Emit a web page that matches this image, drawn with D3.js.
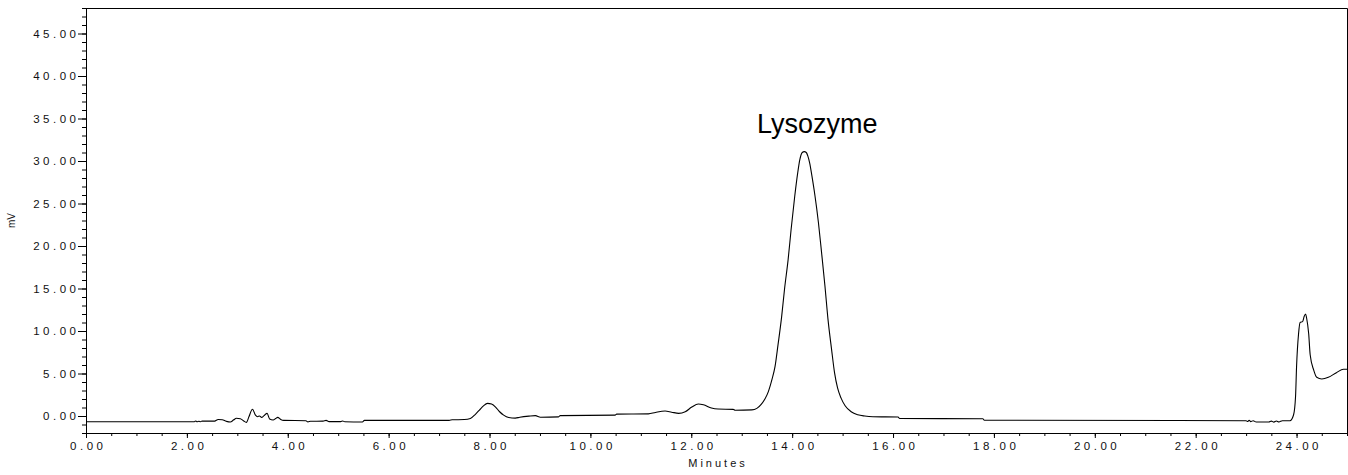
<!DOCTYPE html>
<html>
<head>
<meta charset="utf-8">
<script src="https://cdn.jsdelivr.net/npm/d3@7"></script>
<style>
  body { margin: 0; background: #fff; }
  text { font-family: "Liberation Sans", Arial, sans-serif; }
</style>
</head>
<body>
<script>
// retention time (min) and detector signal (mV)
var times = [0.00, 2.15, 2.18, 2.20, 2.24, 2.27, 2.30, 2.55, 2.62, 2.70, 2.78, 2.86, 2.93, 2.98, 3.06, 3.12, 3.18,
  3.23, 3.30, 3.36, 3.40, 3.44, 3.48, 3.53, 3.59, 3.64, 3.71, 3.76, 3.80, 3.86, 3.92, 4.36, 4.40, 4.45, 4.70,
  4.76, 4.82, 5.05, 5.09, 5.13, 5.48, 5.52, 7.20, 7.26, 7.50, 7.62, 7.72, 7.80, 7.88, 7.96, 8.04, 8.12, 8.20,
  8.28, 8.38, 8.51, 8.60, 8.78, 8.91, 9.01, 9.37, 9.40, 10.49, 10.52, 11.15, 11.29, 11.48, 11.61, 11.75, 11.88,
  12.01, 12.14, 12.24, 12.40, 12.53, 12.83, 12.87, 13.20, 13.30, 13.39, 13.46, 13.53, 13.60, 13.66, 13.72,
  13.79, 13.85, 13.92, 13.98, 14.05, 14.11, 14.15, 14.20, 14.24, 14.28, 14.31, 14.35, 14.39, 14.45, 14.52,
  14.58, 14.65, 14.71, 14.78, 14.84, 14.90, 14.97, 15.05, 15.17, 15.30, 15.44, 15.60, 16.10, 16.13, 17.78,
  17.81, 23.00, 23.03, 23.06, 23.09, 23.14, 23.20, 23.45, 23.50, 23.55, 23.60, 23.65, 23.72, 23.87, 23.94,
  23.98, 24.00, 24.04, 24.07, 24.12, 24.15, 24.18, 24.20, 24.24, 24.27, 24.34, 24.40, 24.50, 24.63, 24.79,
  24.93, 25.00];
var signal = [-0.67, -0.67, -0.58, -0.67, -0.62, -0.67, -0.60, -0.60, -0.42, -0.45, -0.62, -0.71, -0.45, -0.27,
  -0.33, -0.55, -0.75, -0.10, 0.79, 0.10, -0.08, 0.00, -0.16, 0.04, 0.31, -0.35, -0.47, -0.30, -0.16, -0.40,
  -0.51, -0.55, -0.70, -0.62, -0.60, -0.52, -0.66, -0.66, -0.58, -0.68, -0.71, -0.51, -0.51, -0.45, -0.42,
  -0.30, 0.20, 0.70, 1.20, 1.49, 1.40, 1.05, 0.50, 0.10, -0.18, -0.25, -0.15, -0.02, 0.04, -0.14, -0.10, 0.04,
  0.10, 0.22, 0.25, 0.42, 0.58, 0.45, 0.31, 0.50, 1.05, 1.41, 1.32, 0.94, 0.82, 0.78, 0.68, 0.72, 0.90, 1.40,
  2.00, 2.90, 4.30, 5.80, 8.40, 11.60, 15.00, 18.40, 22.00, 25.80, 28.60, 30.10, 31.00, 31.10, 31.00, 30.60,
  29.70, 28.30, 26.00, 22.80, 19.40, 15.30, 11.40, 7.90, 5.10, 3.30, 2.10, 1.20, 0.50, 0.15, 0.00, -0.08,
  -0.12, -0.30, -0.32, -0.50, -0.55, -0.65, -0.50, -0.66, -0.55, -0.71, -0.71, -0.60, -0.72, -0.58, -0.70,
  -0.55, -0.55, 0.12, 2.30, 5.80, 9.70, 11.00, 11.10, 11.70, 12.00, 11.50, 9.70, 7.20, 5.40, 4.55, 4.36,
  4.55, 5.10, 5.50, 5.50];

var yMajor = [0, 5, 10, 15, 20, 25, 30, 35, 40, 45];
var xMajor = [0, 2, 4, 6, 8, 10, 12, 14, 16, 18, 20, 22, 24];
var peakName = "Lysozyme";

var width = 1348, height = 475;
var plotL = 86, plotR = 1347, plotT = 8, plotB = 433;
var ls = 3.5; // letter spacing of the tick labels

var x = d3.scaleLinear().domain([0, 25]).range([plotL, plotR]);
var y = d3.scaleLinear().domain([-2, 48]).range([plotB, plotT]);

var svg = d3.select("body").append("svg")
    .attr("width", width)
    .attr("height", height);

svg.append("rect")
    .attr("width", width).attr("height", height)
    .attr("fill", "#fff");

// frame (top and right)
svg.append("path")
    .attr("d", "M" + plotL + "," + (plotT + 0.5) + "H" + (plotR + 0.5) + "V" + plotB)
    .attr("fill", "none")
    .attr("stroke", "#000");

// y axis, minor then major
svg.append("g")
    .attr("transform", "translate(" + plotL + ",0)")
    .call(d3.axisLeft(y).tickValues(d3.range(-2, 49)).tickSize(4).tickSizeOuter(0).tickFormat(""));

var yAxis = svg.append("g")
    .attr("transform", "translate(" + plotL + ",0)")
    .call(d3.axisLeft(y).tickValues(yMajor).tickSize(8).tickSizeOuter(0).tickFormat(d3.format(".2f")));
yAxis.selectAll("text")
    .attr("x", -10 + ls)
    .attr("font-size", "11.5px")
    .attr("letter-spacing", ls + "px")
    .attr("fill", "#111");

// x axis, minor then major
svg.append("g")
    .attr("transform", "translate(0," + plotB + ")")
    .call(d3.axisBottom(x).tickValues(d3.range(0, 25.01, 0.5)).tickSize(3).tickSizeOuter(0).tickFormat(""));

var xAxis = svg.append("g")
    .attr("transform", "translate(0," + plotB + ")")
    .call(d3.axisBottom(x).tickValues(xMajor).tickSize(5).tickSizeOuter(0).tickFormat(d3.format(".2f")));
xAxis.selectAll("text")
    .attr("y", 17)
    .attr("dy", 0)
    .attr("dx", ls / 2)
    .attr("font-size", "11.5px")
    .attr("letter-spacing", ls + "px")
    .attr("fill", "#111");
svg.selectAll(".domain").attr("stroke", "#000");

// axis titles
svg.append("text")
    .attr("x", (plotL + plotR) / 2 + 1.5)
    .attr("y", 467)
    .attr("text-anchor", "middle")
    .attr("font-size", "11px")
    .attr("letter-spacing", "3px")
    .attr("fill", "#111")
    .text("Minutes");

svg.append("text")
    .attr("transform", "translate(15," + ((plotT + plotB) / 2) + ") rotate(-90)")
    .attr("text-anchor", "middle")
    .attr("font-size", "10px")
    .attr("fill", "#111")
    .text("mV");

// trace
var trace = times.map(function(t, i) { return {t: t, v: signal[i]}; });
var line = d3.line()
    .x(function(d) { return x(d.t); })
    .y(function(d) { return y(d.v); })
    .curve(d3.curveMonotoneX);

svg.append("path")
    .datum(trace)
    .attr("fill", "none")
    .attr("stroke", "#000")
    .attr("stroke-width", 1.1)
    .attr("d", line);

// peak annotation
svg.append("text")
    .attr("x", 757)
    .attr("y", 133)
    .attr("font-size", "27px")
    .attr("fill", "#000")
    .text(peakName);
</script>
</body>
</html>
